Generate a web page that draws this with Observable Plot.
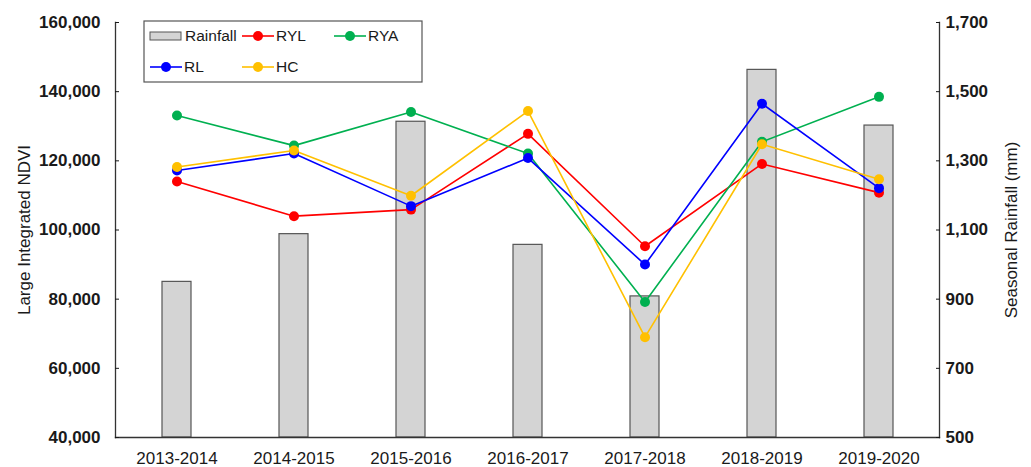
<!DOCTYPE html>
<html>
<head>
<meta charset="utf-8">
<script src="https://cdn.jsdelivr.net/npm/d3@7"></script>
<script src="https://cdn.jsdelivr.net/npm/@observablehq/plot@0.6"></script>
<style>
  body { margin: 0; background: #fff; }
  #chart svg { font-family: "Liberation Sans", Arial, sans-serif; }
</style>
</head>
<body>
<div id="chart"></div>
<script>
// ---- Data ----
const seasons = ["2013-2014", "2014-2015", "2015-2016", "2016-2017", "2017-2018", "2018-2019", "2019-2020"];
const rainfall = [950, 1088, 1413, 1057, 908, 1563, 1402];
const RYL = [114000, 104000, 105900, 127800, 95300, 119100, 110800];
const RYA = [133100, 124400, 134100, 122100, 79200, 125500, 138500];
const RL  = [117200, 122100, 106900, 120800, 90000, 136500, 112100];
const HC  = [118200, 123000, 109900, 134400, 69000, 124800, 114700];
const seriesNames = ["RYL", "RYA", "RL", "HC"];
const seriesColors = ["#ff0000", "#00b050", "#0000ff", "#ffc000"];
const ndviTicks = [40000, 60000, 80000, 100000, 120000, 140000, 160000];
const rainTicks = [500, 700, 900, 1100, 1300, 1500, 1700];

// ---- Derived tables ----
const ndviDomain = [ndviTicks[0], ndviTicks[ndviTicks.length - 1]];
const rainDomain = [rainTicks[0], rainTicks[rainTicks.length - 1]];
const rainToNdvi = d3.scaleLinear().domain(rainDomain).range(ndviDomain);
const ndviToRain = rainToNdvi.invert;

const bars = seasons.map((s, i) => ({season: s, rain: rainfall[i], y: rainToNdvi(rainfall[i])}));
const seriesData = {RYL, RYA, RL, HC};
const points = seriesNames.flatMap((name) =>
  seasons.map((s, i) => ({series: name, season: s, value: seriesData[name][i]}))
);

const fmt = d3.format(",");
const tickFont = 17;
const titleFont = 17;

const chart = Plot.plot({
  width: 1031,
  height: 467,
  marginLeft: 115,
  marginRight: 92,
  marginTop: 22,
  marginBottom: 30,
  style: {fontFamily: "Liberation Sans, Arial, sans-serif", fontSize: tickFont + "px", color: "#1a1a1a", background: "#fff"},
  x: {type: "band", domain: seasons, padding: 0},
  y: {domain: ndviDomain},
  color: {domain: seriesNames, range: seriesColors},
  marks: [
    Plot.barY(bars, {x: "season", y1: ndviDomain[0], y2: "y", fill: "#d4d4d4", stroke: "#555", strokeWidth: 1.2, insetLeft: 44, insetRight: 44}),
    Plot.line(points, {x: "season", y: "value", z: "series", stroke: "series", strokeWidth: 1.6}),
    Plot.dot(points, {x: "season", y: "value", fill: "series", r: 5}),
    Plot.frame({anchor: "left", stroke: "#333", strokeWidth: 1.3}),
    Plot.frame({anchor: "right", stroke: "#333", strokeWidth: 1.3}),
    Plot.frame({anchor: "bottom", stroke: "#333", strokeWidth: 1.3}),
    // left tick labels (bold)
    Plot.axisY({
      anchor: "left", ticks: ndviTicks, tickFormat: fmt, tickSize: -4, tickPadding: 19,
      fontWeight: "bold", fontSize: tickFont, label: null
    }),
    // left title (regular)
    Plot.axisY({
      anchor: "left", ticks: [], tickSize: 0, fontSize: titleFont,
      label: "Large Integrated NDVI", labelAnchor: "center", labelOffset: 98, labelArrow: "none"
    }),
    // right tick labels (rainfall, mm)
    Plot.axisY({
      anchor: "right", ticks: ndviTicks, tickFormat: (d) => fmt(Math.round(ndviToRain(d))), tickSize: -4, tickPadding: 10,
      fontWeight: "bold", fontSize: tickFont, label: null
    }),
    // right title
    Plot.axisY({
      anchor: "right", ticks: [], tickSize: 0, fontSize: titleFont,
      label: "Seasonal Rainfall (mm)", labelAnchor: "center", labelOffset: 77, labelArrow: "none"
    }),
    Plot.axisX({tickSize: 0, tickPadding: 14, fontSize: tickFont, label: null})
  ]
});

document.getElementById("chart").appendChild(chart);

// ---- Legend (inside the plot, top-left) ----
const svg = d3.select(chart);
const lg = svg.append("g")
  .attr("font-family", "Liberation Sans, Arial, sans-serif")
  .attr("font-size", 15.5)
  .attr("text-anchor", "start")
  .attr("fill", "#1a1a1a");
lg.append("rect").attr("x", 144).attr("y", 21).attr("width", 278).attr("height", 61)
  .attr("fill", "#fff").attr("stroke", "#555").attr("stroke-width", 1.2);
// Rainfall swatch
lg.append("rect").attr("x", 150).attr("y", 32).attr("width", 31).attr("height", 8)
  .attr("fill", "#d4d4d4").attr("stroke", "#555").attr("stroke-width", 1);
lg.append("text").attr("x", 185).attr("y", 36).attr("dy", "0.35em").text("Rainfall");
const legendItems = [
  {name: "RYL", x: 242, y: 36},
  {name: "RYA", x: 334, y: 36},
  {name: "RL", x: 150, y: 67},
  {name: "HC", x: 242, y: 67}
];
legendItems.forEach((it) => {
  const c = seriesColors[seriesNames.indexOf(it.name)];
  lg.append("line").attr("x1", it.x).attr("x2", it.x + 32).attr("y1", it.y).attr("y2", it.y)
    .attr("stroke", c).attr("stroke-width", 1.6);
  lg.append("circle").attr("cx", it.x + 16).attr("cy", it.y).attr("r", 5).attr("fill", c);
  lg.append("text").attr("x", it.x + 34).attr("y", it.y).attr("dy", "0.35em").text(it.name);
});
</script>
</body>
</html>
